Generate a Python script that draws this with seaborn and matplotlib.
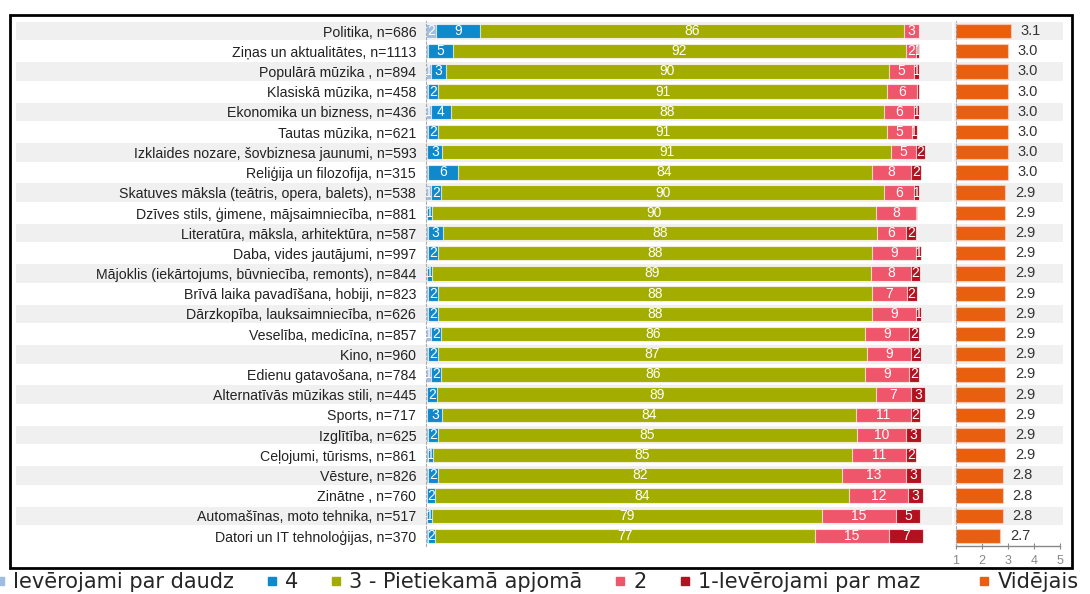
import matplotlib
matplotlib.use("Agg")
import numpy as np
import pandas as pd
import seaborn as sns
import matplotlib.pyplot as plt
from matplotlib.patches import Rectangle
from matplotlib.lines import Line2D
from matplotlib.transforms import blended_transform_factory

# ---------------- data ----------------
categories = [
    "Politika, n=686",
    "Ziņas un aktualitātes, n=1113",
    "Populārā mūzika , n=894",
    "Klasiskā mūzika, n=458",
    "Ekonomika un bizness, n=436",
    "Tautas mūzika, n=621",
    "Izklaides nozare, šovbiznesa jaunumi, n=593",
    "Reliģija un filozofija, n=315",
    "Skatuves māksla (teātris, opera, balets), n=538",
    "Dzīves stils, ģimene, mājsaimniecība, n=881",
    "Literatūra, māksla, arhitektūra, n=587",
    "Daba, vides jautājumi, n=997",
    "Mājoklis (iekārtojums, būvniecība, remonts), n=844",
    "Brīvā laika pavadīšana, hobiji, n=823",
    "Dārzkopība, lauksaimniecība, n=626",
    "Veselība, medicīna, n=857",
    "Kino, n=960",
    "Edienu gatavošana, n=784",
    "Alternatīvās mūzikas stili, n=445",
    "Sports, n=717",
    "Izglītība, n=625",
    "Ceļojumi, tūrisms, n=861",
    "Vēsture, n=826",
    "Zinātne , n=760",
    "Automašīnas, moto tehnika, n=517",
    "Datori un IT tehnoloģijas, n=370",
]
v5 = [2, 0.4, 1, 0.5, 1, 0.5, 0.3, 0.4, 1, 0.3, 0.4, 0.4, 0.3, 0.5, 0.4, 1, 0.4, 1, 0.3, 0.3, 0.4, 0.4, 0.4, 0.3, 0.3, 0.4]
v4 = [9, 5, 3, 2, 4, 2, 3, 6, 2, 1, 3, 2, 1, 2, 2, 2, 2, 2, 2, 3, 2, 1, 2, 1.5, 1, 1.5]
v3 = [86, 92, 90, 91, 88, 91, 91, 84, 90, 90, 88, 88, 89, 88, 88, 86, 87, 86, 89, 84, 85, 85, 82, 84, 79, 77]
v2 = [3, 2, 5, 6, 6, 5, 5, 8, 6, 8, 6, 9, 8, 7, 9, 9, 9, 9, 7, 11, 10, 11, 13, 12, 15, 15]
v1 = [0, 0.6, 1, 0.5, 1, 1, 2, 2, 1, 0.4, 2, 1, 2, 2, 1, 2, 2, 2, 3, 2, 3, 2, 3, 3, 5, 7]
means = [3.1, 3.0, 3.0, 3.0, 3.0, 3.0, 3.0, 3.0, 2.9, 2.9, 2.9, 2.9, 2.9, 2.9, 2.9,
         2.9, 2.9, 2.9, 2.9, 2.9, 2.9, 2.9, 2.8, 2.8, 2.8, 2.7]
series_labels = ["Ievērojami par daudz", "4", "3 - Pietiekamā apjomā", "2", "1-Ievērojami par maz"]
mean_label = "Vidējais"
mean_ticks = [1, 2, 3, 4, 5]

# ---------------- style ----------------
colors = ["#9fbde2", "#0f88cc", "#a2ad00", "#f0566b", "#b2111f"]
mean_color = "#e8600f"
stripe = "#f0f0f0"

sns.set_theme(style="white")
plt.rcParams["font.family"] = ["Liberation Sans", "DejaVu Sans"]

df = pd.DataFrame({"cat": categories, "v5": v5, "v4": v4, "v3": v3, "v2": v2, "v1": v1,
                   "mean": means})
vals = df[["v5", "v4", "v3", "v2", "v1"]].to_numpy()
cum = np.cumsum(vals, axis=1)
for k in range(5):
    df[f"c{k}"] = cum[:, k]
n = len(df)

fig = plt.figure(figsize=(10.9, 5.94), dpi=100)
ax = fig.add_axes([0.3908, 0.0806, 0.4826, 0.8842])
axm = fig.add_axes([0.8771, 0.0806, 0.0982, 0.8842])
for a in (ax, axm):
    a.set_facecolor("none")

# stacked bars: draw cumulative totals from the longest to the shortest
for k in range(4, -1, -1):
    sns.barplot(data=df, x=f"c{k}", y="cat", orient="h", color=colors[k], saturation=1,
                width=0.72, errorbar=None, edgecolor=(1, 1, 1, 0.7), linewidth=0.8, ax=ax)

# segment value labels (clipped to the segment)
for i in range(n):
    left = 0.0
    for k in range(5):
        v = vals[i, k]
        if round(v) >= 1:
            clip = Rectangle((left, i - 0.36), v, 0.72, transform=ax.transData)
            t = ax.text(left + v / 2, i, f"{round(v):d}", ha="center", va="center",
                        color="white", fontsize=10, clip_on=True)
            t.set_clip_path(clip)
        left += v

blend = blended_transform_factory(ax.transAxes, ax.transData)
blend_m = blended_transform_factory(axm.transAxes, axm.transData)
for i in range(n):
    if i % 2 == 0:
        ax.add_patch(Rectangle((-0.78, i - 0.46), 1.78, 0.92, transform=blend,
                               facecolor=stripe, edgecolor="none", zorder=0, clip_on=False))
        axm.add_patch(Rectangle((-0.02, i - 0.46), 1.02, 0.92, transform=blend_m,
                                facecolor=stripe, edgecolor="none", zorder=0, clip_on=False))

ax.set_xlim(0, 106.7)
ax.set_ylim(n - 0.5, -0.5)
ax.set_xticks([])
ax.set_xlabel("")
ax.set_ylabel("")
ax.set_yticks(range(n))
ax.set_yticklabels(categories, fontsize=10.2, color="#222222")
ax.tick_params(axis="y", length=0, pad=7)
for s in ("top", "right", "bottom"):
    ax.spines[s].set_visible(False)
ax.spines["left"].set_color("#aaaaaa")
ax.spines["left"].set_linestyle((0, (2, 2)))
ax.spines["left"].set_linewidth(0.8)

# mean panel
sns.barplot(data=df, x="mean", y="cat", orient="h", color=mean_color, saturation=1,
            width=0.72, errorbar=None, edgecolor=(1, 0.8, 0.75, 0.8), linewidth=0.8, ax=axm)
for i, m in enumerate(means):
    axm.text(m + 0.38, i, f"{m:.1f}", ha="left", va="center", fontsize=10.5, color="#333333")
axm.set_xlim(1, 5.12)
axm.set_ylim(n - 0.5, -0.5)
axm.set_yticks([])
axm.set_xlabel("")
axm.set_ylabel("")
axm.set_xticks(mean_ticks)
axm.set_xticklabels([str(t) for t in mean_ticks], fontsize=9, color="#888888")
axm.tick_params(axis="x", direction="inout", length=5, width=0.8, color="#888888", pad=4,
                bottom=True)
for s in ("top", "right"):
    axm.spines[s].set_visible(False)
axm.spines["bottom"].set_color("#888888")
axm.spines["bottom"].set_bounds(1, 5)
axm.spines["bottom"].set_linewidth(1)
axm.spines["left"].set_color("#aaaaaa")
axm.spines["left"].set_linestyle((0, (2, 2)))
axm.spines["left"].set_linewidth(0.8)

# outer frame
fig.add_artist(Rectangle((0.00917, 0.0438), 0.9743, 0.9309, transform=fig.transFigure,
                         fill=False, edgecolor="black", linewidth=2))

# legends
handles = [Line2D([], [], marker="s", linestyle="none", markersize=6, color=c) for c in colors]
fig.legend(handles, series_labels, loc="center left", bbox_to_anchor=(-0.006, 0.0202),
           ncol=5, frameon=False, prop={"family": "DejaVu Sans", "size": 15},
           handlelength=0.6, handletextpad=0.35, columnspacing=1.5,
           borderpad=0, borderaxespad=0)
fig.legend([Line2D([], [], marker="s", linestyle="none", markersize=6, color=mean_color)],
           [mean_label], loc="center left", bbox_to_anchor=(0.897, 0.0202),
           frameon=False, prop={"family": "DejaVu Sans", "size": 15},
           handlelength=0.6, handletextpad=0.35, borderpad=0, borderaxespad=0)

fig.savefig("out.png", dpi=100)
